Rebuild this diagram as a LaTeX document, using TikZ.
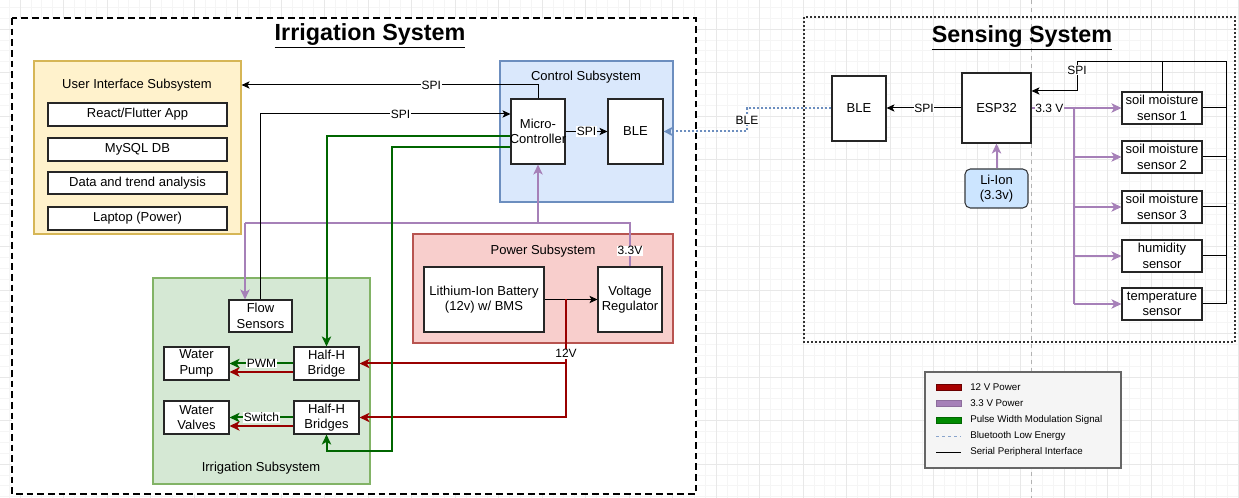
\documentclass[tikz,border=0pt]{standalone}
\usepackage{fontspec}
\setmainfont{Liberation Sans}
\usetikzlibrary{arrows.meta,calc}

\definecolor{jaune}{HTML}{FFF2CC}
\definecolor{jauneb}{HTML}{D6B656}
\definecolor{bleu}{HTML}{DAE8FC}
\definecolor{bleub}{HTML}{6C8EBF}
\definecolor{rose}{HTML}{F8CECC}
\definecolor{roseb}{HTML}{B85450}
\definecolor{vert}{HTML}{D5E8D4}
\definecolor{vertb}{HTML}{82B366}
\definecolor{bleuli}{HTML}{CCE5FF}
\definecolor{grisli}{HTML}{36393D}
\definecolor{rouge12}{HTML}{990000}
\definecolor{violet33}{HTML}{A680B8}
\definecolor{vertpwm}{HTML}{006600}

\begin{document}
\begin{tikzpicture}[x=0.75pt, y=-0.75pt,
	boite/.style={draw=black!85, fill=white, line width=0.8pt, inner sep=0pt},
	sousys/.style={line width=0.9pt, inner sep=0pt},
	texte/.style={align=center, font=\fontsize{9.75}{11.5}\selectfont},
	titre/.style={font=\fontsize{17.5}{20}\selectfont\bfseries},
	lbl/.style={fill=white, text=black, inner sep=0.6pt, font=\fontsize{9}{10}\selectfont},
	leg/.style={anchor=west, inner sep=0pt, font=\fontsize{7.3}{8.5}\selectfont},
	fleche/.style={-{Stealth[length=6pt,width=5.5pt,inset=1.5pt]}},
	grosse/.style={-{Stealth[length=7.5pt,width=7pt,inset=2pt]}},
	spi/.style={draw=black, line width=0.75pt},
	p12/.style={draw=rouge12, line width=1.5pt},
	p33/.style={draw=violet33, line width=1.5pt},
	pwm/.style={draw=vertpwm, line width=1.5pt},
	bleligne/.style={draw=bleub, line width=1.5pt, dash pattern=on 1.5pt off 1.5pt}]

		%fond et grille
		\fill[white] (0,0) rectangle (1239,498);
		\useasboundingbox (0,0) rectangle (1239,498);
		\foreach \i in {0,...,113} \draw[black!4, line width=0.4pt] ({9.125+\i*10.875},0) -- ({9.125+\i*10.875},498);
		\foreach \i in {0,...,45} \draw[black!4, line width=0.4pt] (0,{7.25+\i*10.875}) -- (1239,{7.25+\i*10.875});
		\foreach \i in {0,...,28} \draw[black!9, line width=0.5pt] ({20+\i*43.5},0) -- ({20+\i*43.5},498);
		\foreach \i in {0,...,11} \draw[black!9, line width=0.5pt] (0,{29+\i*43.5}) -- (1239,{29+\i*43.5});
		\draw[black!30, line width=0.5pt, dash pattern=on 3pt off 3pt] (1031,0) -- (1031,498);

		\newcommand{\boite}[7]{
			\node[#6, minimum width={(#4-#2)*0.75pt}, minimum height={(#5-#3)*0.75pt}] (#1) at ({(#2+#4)/2},{(#3+#5)/2}) {};
			\node[texte] at (#1) {#7};
		}

		%cadres
		\draw[fill=white, line width=1.5pt, dash pattern=on 5pt off 3pt] (12,18) rectangle (696,494);
		\draw[black!80, line width=0.8pt, dash pattern=on 1.5pt off 1.5pt] (804,17) rectangle (1235,342);
		\node[titre] at (370,36) {\underline{Irrigation System}};
		\node[titre] at (1022,38) {\underline{Sensing System}};

		%sous-systemes
		\boite{ui}{34}{61}{241}{234}{sousys, fill=jaune, draw=jauneb}{}
		\node[texte] at (137,85) {User Interface Subsystem};
		\boite{app}{48}{103}{227}{126}{boite}{React/Flutter App}
		\boite{db}{48}{138}{227}{161}{boite}{MySQL DB}
		\boite{ana}{48}{172}{227}{194}{boite}{Data and trend analysis}
		\boite{lap}{48}{207}{227}{230}{boite}{Laptop (Power)}

		\boite{ctrl}{500}{61}{673}{202}{sousys, fill=bleu, draw=bleub}{}
		\node[texte] at (586,77) {Control Subsystem};
		\boite{micro}{511}{99}{565}{164}{boite}{Micro-\\Controller}
		\boite{ble}{608}{99}{663}{164}{boite}{BLE}

		\boite{alim}{413}{234}{673}{343}{sousys, fill=rose, draw=roseb}{}
		\node[texte] at (543,251) {Power Subsystem};
		\boite{batt}{424}{267}{544}{332}{boite}{Lithium-Ion Battery\\(12v) w/ BMS}
		\boite{reg}{598}{267}{662}{332}{boite}{Voltage\\Regulator}

		\boite{irr}{153}{278}{370}{484}{sousys, fill=vert, draw=vertb}{}
		\node[texte] at (261,468) {Irrigation Subsystem};
		\boite{flow}{229}{300}{292}{332}{boite}{Flow\\Sensors}
		\boite{pump}{164}{347}{229}{380}{boite}{Water\\Pump}
		\boite{bridge}{294}{347}{359}{380}{boite}{Half-H\\Bridge}
		\boite{valves}{164}{401}{229}{434}{boite}{Water\\Valves}
		\boite{bridges}{294}{401}{359}{434}{boite}{Half-H\\Bridges}

		%capteurs
		\boite{ble2}{832}{76}{886}{141}{boite}{BLE}
		\boite{esp}{962}{73}{1031}{143}{boite}{ESP32}
		\boite{liion}{965}{169}{1028}{208}{boite, fill=bleuli, draw=grisli, rounded corners=4pt}{Li-Ion\\(3.3v)}
		\boite{s1}{1122}{92}{1202}{124}{boite}{soil moisture\\sensor 1}
		\boite{s2}{1122}{141}{1202}{173}{boite}{soil moisture\\sensor 2}
		\boite{s3}{1122}{191}{1202}{223}{boite}{soil moisture\\sensor 3}
		\boite{s4}{1122}{240}{1202}{272}{boite}{humidity\\sensor}
		\boite{s5}{1122}{288}{1202}{320}{boite}{temperature\\sensor}

		%alimentation 3.3V
		\coordinate (pwF) at (245,223);
		\draw[p33] (reg.north) -- node[lbl, pos=0.36]{3.3V} (reg.north |- pwF) -- (pwF);
		\draw[p33, grosse] (pwF) -- (pwF |- flow.north);
		\draw[p33, grosse] (micro.south |- pwF) -- (micro.south);

		%liaisons SPI
		\coordinate (spiH) at (0,85);
		\coordinate (spiM) at (0,114);
		\draw[spi, fleche] (micro.north) |- node[lbl, pos=0.68]{SPI} (ui.east |- spiH);
		\draw[spi, fleche] (flow.north) |- node[lbl, pos=0.78]{SPI} (micro.west |- spiM);
		\draw[spi, fleche] (micro) -- node[lbl]{SPI} (ble);
		\draw[spi, fleche] (batt) -- (reg);

		%alimentation 12V
		\coordinate (j12) at (566,299.5);
		\draw[p12, grosse] (j12) |- node[lbl, pos=0.23]{12V} (bridges.east);
		\draw[p12, grosse] (j12 |- bridge.east) -- (bridge.east);

		%signaux PWM
		\coordinate (gA) at (0,136);
		\coordinate (gB) at (392,147);
		\coordinate (gC) at (392,451);
		\draw[pwm, grosse] (micro.west |- gA) -| (bridge.north);
		\draw[pwm, grosse] (micro.west |- gB) -- (gB) -- (gC) -| (bridges.south);
		\draw[pwm, grosse] (bridge.west) -- node[lbl]{PWM} (pump.east);
		\draw[p12, grosse] ($(bridge.west)+(0,8.5)$) -- ($(pump.east)+(0,8.5)$);
		\draw[pwm, grosse] (bridges.west) -- node[lbl]{Switch} (valves.east);
		\draw[p12, grosse] ($(bridges.west)+(0,8.5)$) -- ($(valves.east)+(0,8.5)$);

		%bluetooth
		\coordinate (bA) at (747,0);
		\draw[bleligne, -{Stealth[length=7pt,width=7pt,inset=2pt]}] (ble2.west) -| node[lbl, pos=0.75]{BLE} (bA |- ble.east) -- (ble.east);

		%systeme de mesure
		\draw[spi, fleche] (esp.west) -- node[lbl]{SPI} (ble2.east |- esp.west);
		\coordinate (tronc) at (1074,108);
		\draw[p33] (esp.east) -- node[lbl, pos=0.42]{3.3 V} (tronc) -- (tronc |- s5.west);
		\foreach \n in {1,...,5} \draw[p33, grosse] (tronc |- s\n.west) -- (s\n.west);
		\draw[p33, grosse] (liion) -- (esp);

		\coordinate (busH) at (1226,62);
		\coordinate (busG) at (1077,62);
		\coordinate (busE) at (1077,91);
		\draw[spi] (busG) -- (busH) -- (busH |- s5.east);
		\foreach \n in {1,...,5} \draw[spi] (s\n.east) -- (busH |- s\n.east);
		\draw[spi] (s1.north) -- (s1.north |- busH);
		\draw[spi, fleche] (busG) -- node[lbl, pos=0.28]{SPI} (busE) -- (esp.east |- busE);

		%legende
		\boite{legende}{925}{372}{1121}{468}{boite, fill=black!4, draw=black!60}{}
		\draw[fill=rouge12!85!red, draw=rouge12!70!black, line width=0.5pt] (936,384) rectangle (961,390);
		\draw[fill=violet33, draw=violet33!85!black, line width=0.5pt] (936,400) rectangle (961,406);
		\draw[fill=green!54!black, draw=vertpwm, line width=0.5pt] (936,417) rectangle (961,423);
		\draw[bleub!80, line width=0.5pt, dash pattern=on 2.5pt off 2pt] (936,436) -- (961,436);
		\draw[black, line width=0.6pt] (936,452) -- (961,452);
		\node[leg] at (970,387) {12 V Power};
		\node[leg] at (970,403) {3.3 V Power};
		\node[leg] at (970,420) {Pulse Width Modulation Signal};
		\node[leg] at (970,436) {Bluetooth Low Energy};
		\node[leg] at (970,452) {Serial Peripheral Interface};

\end{tikzpicture}
\end{document}
